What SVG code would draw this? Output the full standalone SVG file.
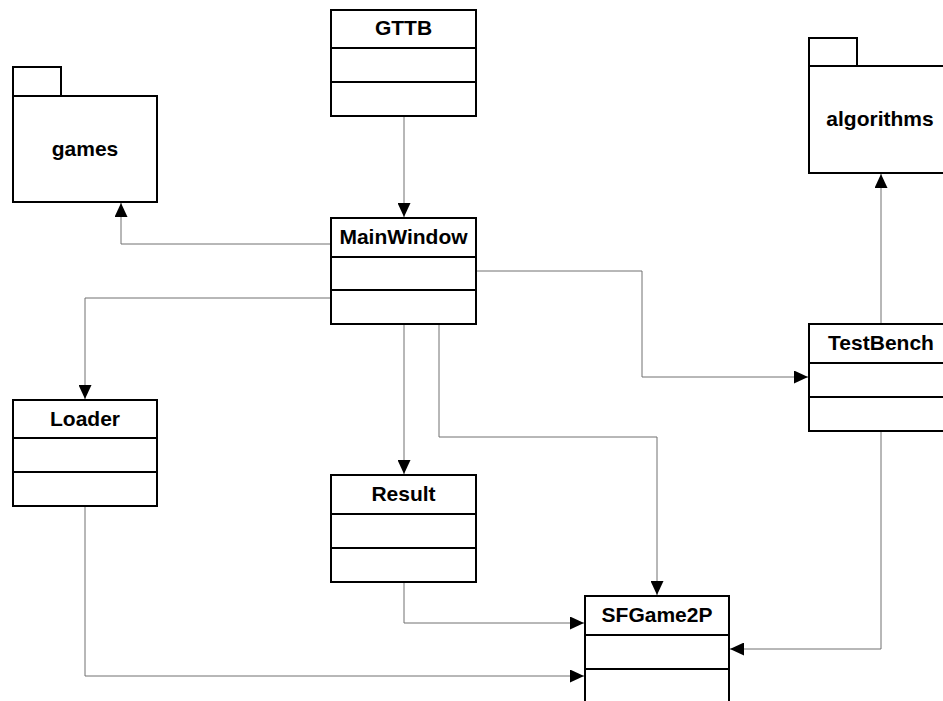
<svg xmlns="http://www.w3.org/2000/svg" width="943" height="701" viewBox="0 0 943 701">
<style>
.box{fill:#fff;stroke:#000;stroke-width:2}
.div{stroke:#000;stroke-width:2}
.lbl{font-family:"Liberation Sans",Arial,sans-serif;font-weight:bold;font-size:21px;text-anchor:middle;fill:#000}
.conn{fill:none;stroke:#707070;stroke-width:1;marker-end:url(#arr)}
</style>
<defs>
<marker id="arr" viewBox="0 0 14 13" refX="14" refY="6.5" markerWidth="14" markerHeight="13" markerUnits="userSpaceOnUse" orient="auto">
<path d="M0,0 L14,6.5 L0,13 z" fill="#000"/>
</marker>
</defs>
<rect width="943" height="701" fill="#fff"/>
<g id="connectors">
<path class="conn" d="M404,116 V217"/>
<path class="conn" d="M331,244 H121 V203"/>
<path class="conn" d="M331,298 H85 V399"/>
<path class="conn" d="M404,324 V474"/>
<path class="conn" d="M439,324 V437 H657 V595"/>
<path class="conn" d="M476,271 H642 V377 H808"/>
<path class="conn" d="M881,324 V174"/>
<path class="conn" d="M881,431 V649 H730"/>
<path class="conn" d="M404,582 V623 H584"/>
<path class="conn" d="M85,506 V676 H584"/>
</g>
<g id="games">
<rect class="box" x="13" y="67" width="48" height="29"/>
<rect class="box" x="13" y="96" width="144" height="106"/>
<text class="lbl" x="85" y="156">games</text>
</g>
<g id="algorithms">
<rect class="box" x="809" y="38" width="48" height="28"/>
<rect class="box" x="809" y="66" width="144" height="107"/>
<text class="lbl" x="880" y="126">algorithms</text>
</g>
<g id="GTTB">
<rect class="box" x="331" y="10" width="145" height="106"/>
<line class="div" x1="331" y1="48" x2="476" y2="48"/>
<line class="div" x1="331" y1="82" x2="476" y2="82"/>
<text class="lbl" x="403.5" y="35">GTTB</text>
</g>
<g id="MainWindow">
<rect class="box" x="331" y="218" width="145" height="106"/>
<line class="div" x1="331" y1="257" x2="476" y2="257"/>
<line class="div" x1="331" y1="290" x2="476" y2="290"/>
<text class="lbl" x="403.5" y="244">MainWindow</text>
</g>
<g id="Loader">
<rect class="box" x="13" y="400" width="144" height="106"/>
<line class="div" x1="13" y1="438" x2="157" y2="438"/>
<line class="div" x1="13" y1="472" x2="157" y2="472"/>
<text class="lbl" x="85" y="426">Loader</text>
</g>
<g id="Result">
<rect class="box" x="331" y="475" width="145" height="107"/>
<line class="div" x1="331" y1="514" x2="476" y2="514"/>
<line class="div" x1="331" y1="548" x2="476" y2="548"/>
<text class="lbl" x="403.5" y="501">Result</text>
</g>
<g id="TestBench">
<rect class="box" x="809" y="324" width="144" height="107"/>
<line class="div" x1="809" y1="363" x2="953" y2="363"/>
<line class="div" x1="809" y1="397" x2="953" y2="397"/>
<text class="lbl" x="881" y="350">TestBench</text>
</g>
<g id="SFGame2P">
<rect class="box" x="585" y="596" width="144" height="110"/>
<line class="div" x1="585" y1="635" x2="729" y2="635"/>
<line class="div" x1="585" y1="669" x2="729" y2="669"/>
<text class="lbl" x="657" y="622">SFGame2P</text>
</g>
</svg>
